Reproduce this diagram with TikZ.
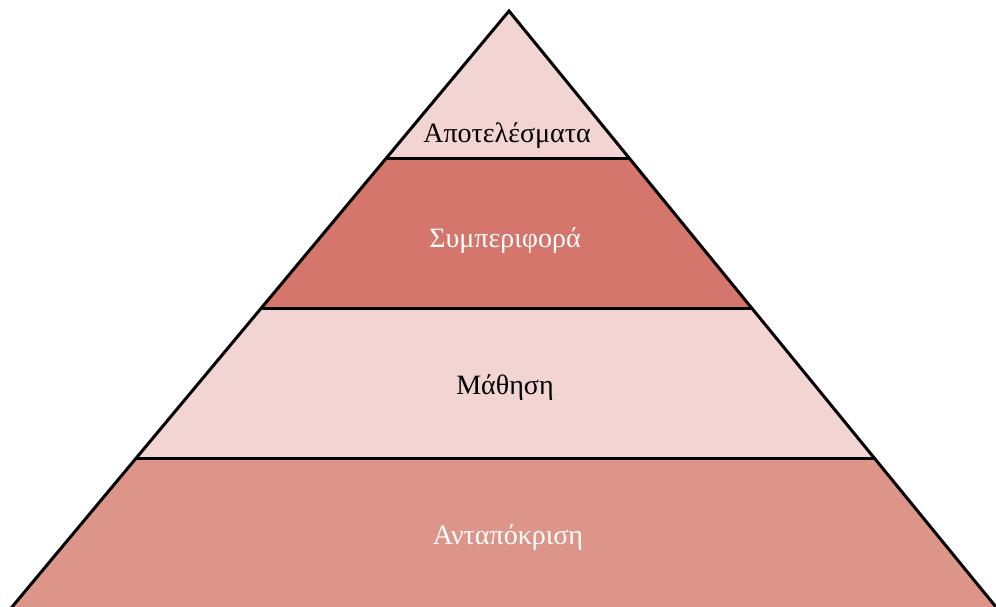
\documentclass[tikz,border=0pt]{standalone}
\usepackage{fontspec}
\setmainfont{Liberation Serif}
\usetikzlibrary{calc}
\definecolor{lightband}{HTML}{F2D5D2}
\definecolor{darkband}{HTML}{D4766B}
\definecolor{baseband}{HTML}{DD958A}
\tikzset{
  edge/.style={draw=black, line width=3pt, line join=miter},
  sep/.style={draw=black, line width=3pt},
  lbl/.style={font=\fontsize{28}{32}\selectfont, inner sep=0pt},
}
\begin{document}
\begin{tikzpicture}[x=1pt,y=-1pt]
\useasboundingbox (0,0) rectangle (996,607);
\coordinate (A) at (509,11);
\coordinate (L) at (12,607);
\coordinate (R) at (996,607);
% band fills
\fill[baseband] (L) -- (R) -- ($(A)!{448/596}!(R)$) -- ($(A)!{448/596}!(L)$) -- cycle;
\fill[lightband] ($(A)!{448/596}!(L)$) -- ($(A)!{448/596}!(R)$) -- ($(A)!{297/596}!(R)$) -- ($(A)!{297/596}!(L)$) -- cycle;
\fill[darkband] ($(A)!{297/596}!(L)$) -- ($(A)!{297/596}!(R)$) -- ($(A)!{148/596}!(R)$) -- ($(A)!{148/596}!(L)$) -- cycle;
\fill[lightband] ($(A)!{148/596}!(L)$) -- ($(A)!{148/596}!(R)$) -- (A) -- cycle;
% separators
\draw[sep] ($(A)!{148/596}!(L)$) -- ($(A)!{148/596}!(R)$);
\draw[sep] ($(A)!{297/596}!(L)$) -- ($(A)!{297/596}!(R)$);
\draw[sep] ($(A)!{448/596}!(L)$) -- ($(A)!{448/596}!(R)$);
% outline
\draw[edge] ($(L)!-0.02!(A)$) -- (A) -- ($(R)!-0.02!(A)$);
% labels
\node[lbl, text=black] (t1) at (507,136) {Αποτελέσματα};
\node[lbl, text=white] (t2) at (505,241) {Συμπεριφορά};
\node[lbl, text=black] (t3) at (505,388) {Μάθηση};
\node[lbl, text=white] (t4) at (508,538) {Ανταπόκριση};
\end{tikzpicture}
\end{document}
